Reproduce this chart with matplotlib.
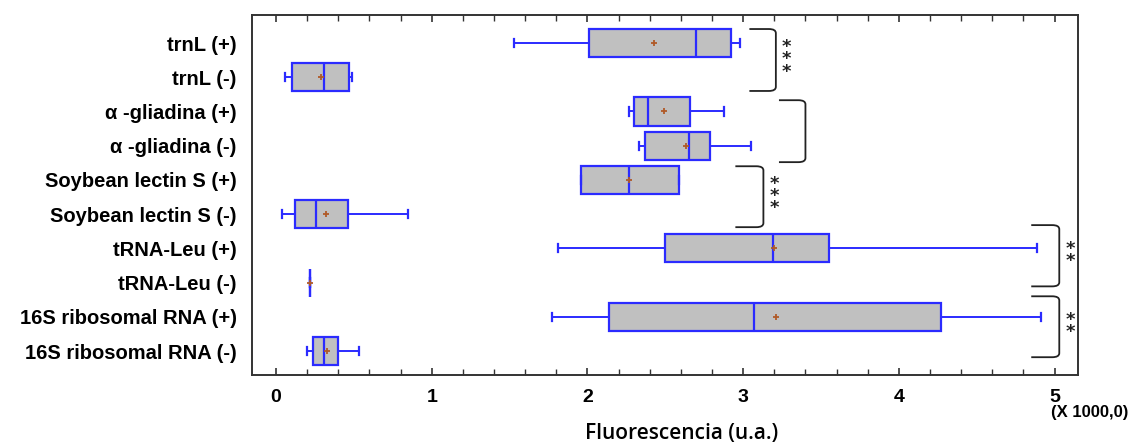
import matplotlib
matplotlib.use("Agg")
import matplotlib.pyplot as plt
from matplotlib import font_manager
from matplotlib.path import Path
from matplotlib.patches import PathPatch
from matplotlib.ticker import MultipleLocator

# values in thousands of fluorescence units
labels = ["trnL (+)", "trnL (-)", "α -gliadina (+)", "α -gliadina (-)",
          "Soybean lectin S (+)", "Soybean lectin S (-)", "tRNA-Leu (+)",
          "tRNA-Leu (-)", "16S ribosomal RNA (+)", "16S ribosomal RNA (-)"]
whis_lo = [1.53, 0.06, 2.27, 2.33, 1.96, 0.04, 1.81, 0.22, 1.77, 0.20]
q1 = [2.01, 0.10, 2.30, 2.37, 1.96, 0.12, 2.50, 0.22, 2.14, 0.24]
median = [2.70, 0.31, 2.39, 2.65, 2.27, 0.26, 3.19, 0.22, 3.07, 0.31]
q3 = [2.92, 0.47, 2.66, 2.79, 2.59, 0.46, 3.55, 0.22, 4.27, 0.40]
whis_hi = [2.98, 0.49, 2.88, 3.05, 2.59, 0.85, 4.89, 0.22, 4.91, 0.53]
means = [2.43, 0.29, 2.49, 2.63, 2.27, 0.32, 3.20, 0.22, 3.21, 0.33]

# significance brackets: (y top, y bottom, x left, x right, stars)
brackets = [(-0.41, 1.40, 3.04, 3.21, "*\n*\n*"),
            (1.67, 3.48, 3.23, 3.40, ""),
            (3.60, 5.38, 2.95, 3.13, "*\n*\n*"),
            (5.32, 7.11, 4.85, 5.03, "*\n*"),
            (7.40, 9.18, 4.85, 5.03, "*\n*")]

installed = {f.name for f in font_manager.fontManager.ttflist}
narrow = "Liberation Sans Narrow" if "Liberation Sans Narrow" in installed else "Liberation Sans"

fig = plt.figure(figsize=(11.29, 4.45), dpi=100)
ax = fig.add_axes([0.2232, 0.1573, 0.9548 - 0.2232, 0.9663 - 0.1573])

stats = []
for i in range(len(labels)):
    stats.append(dict(whislo=whis_lo[i], q1=q1[i], med=median[i], q3=q3[i],
                      whishi=whis_hi[i], mean=means[i], fliers=[]))

blue = "#2b2bff"
ax.bxp(stats, positions=range(len(labels)), orientation="horizontal",
       widths=0.82, capwidths=0.24, showmeans=True, patch_artist=True,
       boxprops=dict(facecolor="#c0c0c0", edgecolor=blue, linewidth=1.6),
       medianprops=dict(color=blue, linewidth=1.6),
       whiskerprops=dict(color=blue, linewidth=1.4),
       capprops=dict(color=blue, linewidth=1.6),
       meanprops=dict(marker="+", markeredgecolor="#b05a28", markersize=5,
                      markeredgewidth=1.3))

# brackets with slightly rounded corners
for top, bot, xl, xr, stars in brackets:
    rx, ry = 0.045, 0.12
    verts = [(xl, top), (xr - rx, top), (xr, top), (xr, top + ry),
             (xr, bot - ry), (xr, bot), (xr - rx, bot), (xl, bot)]
    codes = [Path.MOVETO, Path.LINETO, Path.CURVE3, Path.CURVE3,
             Path.LINETO, Path.CURVE3, Path.CURVE3, Path.LINETO]
    ax.add_patch(PathPatch(Path(verts, codes), fill=False, edgecolor="#222222",
                           linewidth=1.3, clip_on=False))
    if stars:
        ax.text(xr + 0.068, (top + bot) / 2 - 0.02, stars, ha="center",
                va="center", fontsize=13, fontweight="bold", linespacing=0.6,
                family="DejaVu Sans", color="#222222", clip_on=False)

ax.set_xlim(-0.154, 5.15)
ax.set_ylim(9.7, -0.82)
ax.set_yticks(range(len(labels)))
ax.set_yticklabels(labels, family="Liberation Sans", fontweight="bold", fontsize=14.5)
ax.tick_params(axis="y", length=0, pad=11)

ax.xaxis.set_major_locator(MultipleLocator(1))
ax.xaxis.set_minor_locator(MultipleLocator(0.2))
ax.tick_params(axis="x", which="both", direction="in", top=True, color="#333333")
ax.tick_params(axis="x", which="major", length=5, width=1.2, pad=10)
ax.tick_params(axis="x", which="minor", length=4, width=1.0)
for lab in ax.get_xticklabels():
    lab.set_family(narrow)
    lab.set_fontweight("bold")
    lab.set_fontsize(14)

for sp in ax.spines.values():
    sp.set_color("#333333")
    sp.set_linewidth(1.4)

fig.text(1090 / 1129, 1 - 413 / 445, "(X 1000,0)", ha="center", va="center",
         family=narrow, fontweight="bold", fontsize=12)
fig.text(682 / 1129, 1 - 434 / 445, "Fluorescencia (u.a.)", ha="center",
         va="center", family="Open Sans", fontweight="semibold", fontsize=15)

fig.savefig("out.png", dpi=100)
